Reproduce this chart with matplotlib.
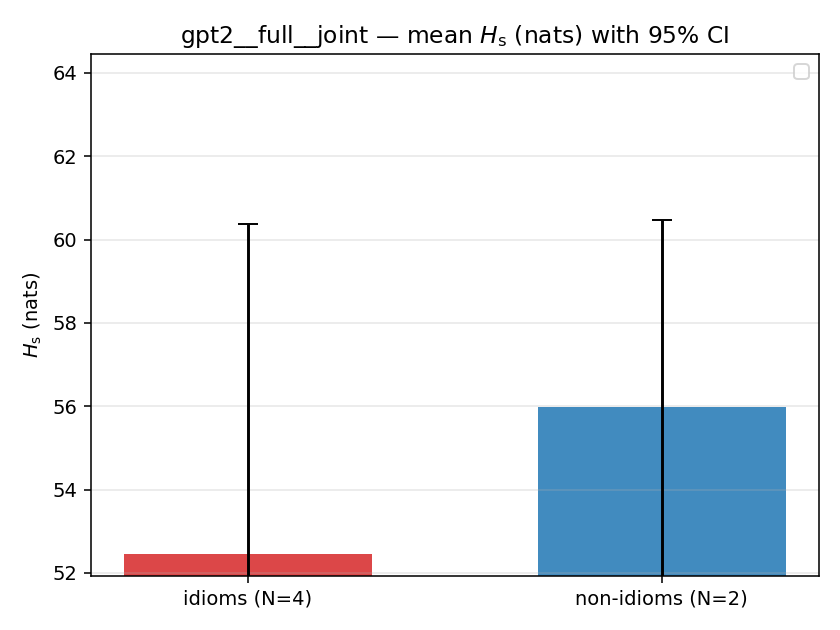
import matplotlib.pyplot as plt
import numpy as np

labels = ['idioms (N=4)', 'non-idioms (N=2)']
means = [52.45, 55.99]
ci_half = [7.93, 4.47]
colors = ['#d62728', '#1f77b4']

fig, ax = plt.subplots(figsize=(6, 4.5), dpi=140)
fig.subplots_adjust(left=0.108, right=0.975, top=0.914, bottom=0.086)

x = np.arange(len(labels))
ax.bar(x, means, width=0.6, color=colors, alpha=0.85)
ax.errorbar(x, means, yerr=ci_half, fmt='none', ecolor='black', capsize=5, elinewidth=1.5, capthick=1.0)

ax.set_xticks(x)
ax.set_xticklabels(labels)
ax.set_ylim(51.93, 64.45)
ax.set_ylabel(r'$H_{\mathrm{s}}$ (nats)')
ax.set_title(r'gpt2__full__joint — mean $H_{\mathrm{s}}$ (nats) with 95% CI')
ax.grid(axis='y', alpha=0.3)
ax.legend(loc='upper right')

fig.savefig('out.png', dpi=140)
